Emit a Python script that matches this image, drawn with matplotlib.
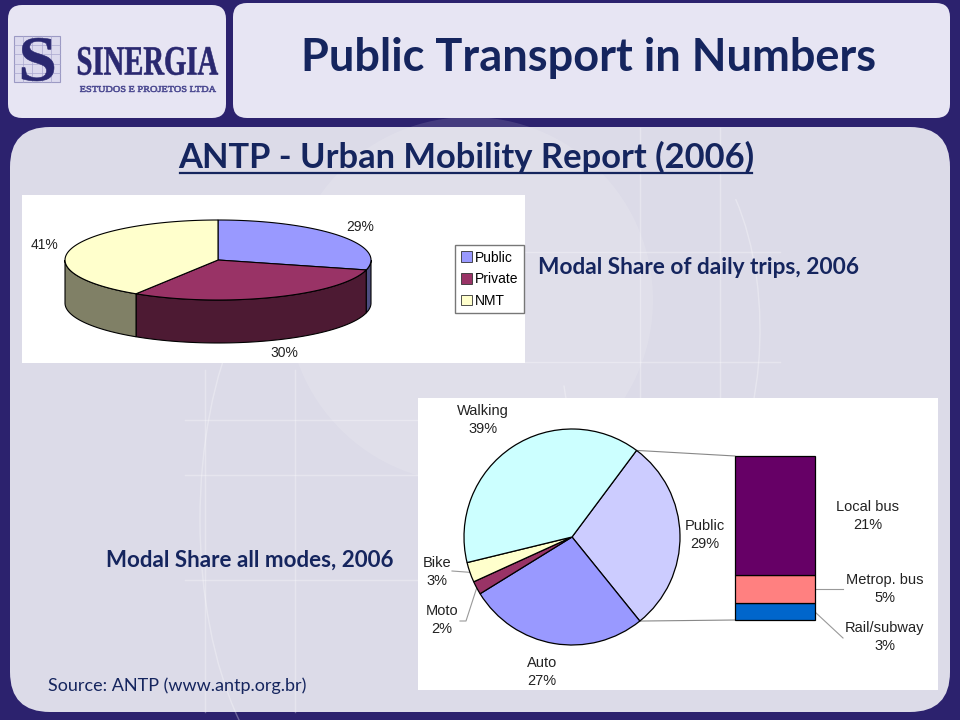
import numpy as np
import matplotlib.pyplot as plt
from matplotlib.patches import FancyBboxPatch, Rectangle, Polygon, PathPatch, Circle, Arc
from matplotlib.textpath import TextPath
from matplotlib.font_manager import FontProperties
from matplotlib.transforms import Affine2D
from matplotlib.colors import to_rgb

# modal share of daily trips (3D pie)
trip_labels = ['Public', 'Private', 'NMT']
trip_share = [29, 30, 41]
trip_colors = ['#9999ff', '#993366', '#ffffcc']

# modal share all modes (pie), clockwise from the Public wedge
mode_labels = ['Public', 'Auto', 'Moto', 'Bike', 'Walking']
mode_share = [29, 27, 2, 3, 39]
mode_colors = ['#ccccff', '#9999ff', '#993366', '#ffffcc', '#ccffff']

# breakdown of public transport (bar of pie), bottom to top
public_labels = ['Rail/subway', 'Metrop. bus', 'Local bus']
public_share = [3, 5, 21]
public_colors = ['#0066cc', '#ff8080', '#660066']

W, H = 960, 720
NAVY = '#15255e'
FRAME = '#2c226e'

fig = plt.figure(figsize=(9.6, 7.2), dpi=100)
fig.patch.set_facecolor(FRAME)
bg = fig.add_axes([0, 0, 1, 1])
bg.set_xlim(0, W)
bg.set_ylim(H, 0)
bg.axis('off')

def box(x0, y0, x1, y1, color, r=14, z=0):
    bg.add_patch(FancyBboxPatch((x0, y0), x1 - x0, y1 - y0,
                                boxstyle=f'round,pad=0,rounding_size={r}',
                                fc=color, ec='none', zorder=z))

box(8, 5, 226, 118, '#e7e5f3')
box(233, 3, 950, 118, '#e7e5f3')
box(10, 127, 950, 712, '#dcdbe8', r=40)

# faint decoration on the slide background
bg.add_patch(Circle((470, 300), 183, fc='white', alpha=0.12, ec='none', zorder=0.5))
deco = dict(color='white', alpha=0.3, lw=1, zorder=0.6)
for x in [205, 295]:
    bg.plot([x, x], [370, 712], **deco)
for y in [420, 475, 580]:
    bg.plot([185, 420], [y, y], **deco)
for x in [640, 720]:
    bg.plot([x, x], [128, 400], **deco)
for y in [252, 362]:
    bg.plot([525, 780], [y, y], **deco)
bg.add_patch(Arc((330, 520), 260, 560, theta1=90, theta2=270, **deco))
bg.add_patch(Arc((660, 330), 200, 400, theta1=-60, theta2=150, **deco))

# logo
bg.add_patch(Rectangle((14, 36), 46, 46, fc='#dcdaee', ec='#9c9ac4', lw=0.8, zorder=1))
for k in range(1, 5):
    bg.plot([14 + k * 9.2] * 2, [36, 82], color='#a9a7cf', lw=0.5, zorder=1)
    bg.plot([14, 60], [36 + k * 9.2] * 2, color='#a9a7cf', lw=0.5, zorder=1)

def stretched(s, x, y, w, h, weight='bold', color='#2a2870', z=2):
    tp = TextPath((0, 0), s, size=10, prop=FontProperties(family='Liberation Serif', weight=weight))
    ext = tp.get_extents()
    tr = (Affine2D().translate(-ext.x0, -ext.y0)
          .scale(w / ext.width, -h / ext.height).translate(x, y + h))
    bg.add_patch(PathPatch(tr.transform_path(tp), fc=color, ec=color, lw=0.4, zorder=z))

stretched('S', 22, 38, 32, 43)
stretched('SINERGIA', 78, 47, 140, 28)
stretched('ESTUDOS E PROJETOS LTDA', 80, 86, 136, 6, weight='normal', color='#4a4890')

title_font = ['Lato', 'DejaVu Sans']
bg.text(589, 58, 'Public Transport in Numbers', ha='center', va='center',
        fontsize=32.5, fontweight='bold', color=NAVY, family=title_font)
bg.text(466, 157, 'ANTP - Urban Mobility Report (2006)', ha='center', va='center',
        fontsize=24.8, fontweight='bold', color=NAVY, family=title_font)
bg.plot([180, 752], [173, 173], color=NAVY, lw=1.6)
bg.text(699, 268, 'Modal Share of daily trips, 2006', ha='center', va='center',
        fontsize=16.3, fontweight='bold', color=NAVY, family=title_font)
bg.text(250, 560, 'Modal Share all modes, 2006', ha='center', va='center',
        fontsize=16.1, fontweight='bold', color=NAVY, family=title_font)
bg.text(177, 686, 'Source: ANTP (www.antp.org.br)', ha='center', va='center',
        fontsize=13, color=NAVY, family=title_font)

# ---- top chart: 3D pie ----
bg.add_patch(Rectangle((22, 195), 503, 168, fc='white', ec='none', zorder=1))
cx, cy, rx, ry, depth = 218, 260, 153, 40, 43

def ell(a, dy=0.0):
    a = np.radians(a)
    return np.column_stack([cx + rx * np.cos(a), cy - ry * np.sin(a) + dy])

edges = 90 - 3.6 * np.concatenate([[0], np.cumsum(trip_share)])
for i, c in enumerate(trip_colors):
    a0, a1 = edges[i], edges[i + 1]
    hi, lo = min(a0, 0), max(a1, -180)
    if lo < hi:
        arc = np.linspace(hi, lo, 60)
        side = np.vstack([ell(arc), ell(arc[::-1], depth)])
        bg.add_patch(Polygon(side, fc=np.array(to_rgb(c)) * 0.5, ec='black', lw=0.8, zorder=2))
for i, c in enumerate(trip_colors):
    arc = np.linspace(edges[i], edges[i + 1], 80)
    top = np.vstack([[cx, cy], ell(arc)])
    bg.add_patch(Polygon(top, fc=c, ec='black', lw=0.8, zorder=3))
    mid = np.radians((edges[i] + edges[i + 1]) / 2)
    lx = cx + 1.18 * rx * np.cos(mid)
    ly = cy - 1.35 * ry * np.sin(mid) + (depth if np.sin(mid) < 0 else 0)
    bg.text(lx, ly, f'{trip_share[i]}%', ha='center', va='center', fontsize=10,
            family='Liberation Sans', color='#222222', zorder=4)

handles = [Rectangle((0, 0), 1, 1, fc=c, ec='#333333', lw=0.6) for c in trip_colors]
bg.legend(handles, trip_labels, loc='upper left', bbox_to_anchor=(455, 245),
          bbox_transform=bg.transData, prop={'family': 'Liberation Sans', 'size': 10},
          frameon=True, fancybox=False, edgecolor='#777777', framealpha=1,
          handlelength=0.8, handleheight=0.8, handletextpad=0.25, borderpad=0.4,
          labelspacing=0.55, borderaxespad=0)

# ---- bottom chart: bar of pie ----
bg.add_patch(Rectangle((418, 398), 520, 292, fc='white', ec='none', zorder=1))
pcx, pcy, pr = 572, 537, 108
start = 53.3
pax = fig.add_axes([(pcx - pr) / W, (H - pcy - pr) / H, 2 * pr / W, 2 * pr / H])
pax.pie(mode_share, colors=mode_colors, startangle=start, counterclock=False,
        wedgeprops=dict(edgecolor='black', linewidth=0.9, clip_on=False))
pax.set_xlim(-1, 1)
pax.set_ylim(-1, 1)
pax.set_aspect('equal')
pax.axis('off')

def pie_pt(ang, r=1.0):
    a = np.radians(ang)
    return pcx + r * pr * np.cos(a), pcy - r * pr * np.sin(a)

medges = start - 3.6 * np.concatenate([[0], np.cumsum(mode_share)])
mid = (medges[:-1] + medges[1:]) / 2
label_xy = [(705, 535), (542, 672), (442, 620), (437, 572), (483, 420)]
for lab, v, (lx, ly) in zip(mode_labels, mode_share, label_xy):
    bg.text(lx, ly, f'{lab}\n{v}%', ha='center', va='center', fontsize=10.5,
            family='Liberation Sans', color='#222222', linespacing=1.35, zorder=4)
ex, ey = pie_pt(mid[3])
bg.plot([452, ex], [571, ey], color='#999999', lw=0.8, zorder=4)
ex, ey = pie_pt(mid[2])
bg.plot([460, 466, ex], [621, 621, ey], color='#999999', lw=0.8, zorder=4)

bx0, bx1, by0, by1 = 735, 815, 456, 620
bax = fig.add_axes([bx0 / W, (H - by1) / H, (bx1 - bx0) / W, (by1 - by0) / H])
bottoms = np.concatenate([[0], np.cumsum(public_share)[:-1]])
bars = bax.bar([0] * 3, public_share, bottom=bottoms, width=1, color=public_colors,
               edgecolor='black', linewidth=0.9)
for b in bars:
    b.set_clip_on(False)
bax.set_xlim(-0.5, 0.5)
bax.set_ylim(0, sum(public_share))
bax.axis('off')

p1 = pie_pt(medges[0])
p2 = pie_pt(medges[1])
bg.plot([p1[0], bx0], [p1[1], by0], color='#888888', lw=0.8, zorder=4)
bg.plot([p2[0], bx0], [p2[1], by1], color='#888888', lw=0.8, zorder=4)

bar_label_xy = [(885, 637), (885, 589), (868, 516)]
for lab, v, (lx, ly) in zip(public_labels, public_share, bar_label_xy):
    bg.text(lx, ly, f'{lab}\n{v}%', ha='center', va='center', fontsize=10.5,
            family='Liberation Sans', color='#222222', linespacing=1.35, zorder=4)
bg.plot([815, 843], [589, 589], color='#999999', lw=0.8, zorder=4)
bg.plot([815, 843], [612, 638], color='#999999', lw=0.8, zorder=4)

fig.savefig('out.png', dpi=100, facecolor=fig.get_facecolor())
